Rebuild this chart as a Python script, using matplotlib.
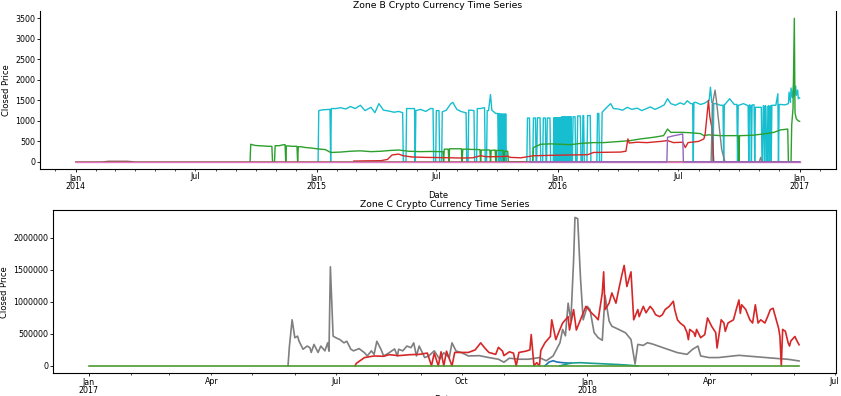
import pandas as pd
import matplotlib
matplotlib.use('Agg')
import matplotlib.pyplot as plt
import matplotlib.dates as mdates
from matplotlib.ticker import FuncFormatter

# ---------------- Zone B (top) ----------------
cyan_dates = ["2015-01-03", "2015-01-04", "2015-01-10", "2015-01-20", "2015-01-30", "2015-02-06",
              "2015-02-14", "2015-02-21", "2015-02-28", "2015-03-08", "2015-03-15", "2015-03-24",
              "2015-03-30", "2015-04-05", "2015-04-12", "2015-04-20", "2015-04-28", "2015-05-05",
              "2015-05-11", "2015-05-20", "2015-05-31", "2015-06-07", "2015-06-15", "2015-06-22",
              "2015-07-01", "2015-07-10", "2015-07-16", "2015-07-23", "2015-07-26", "2015-08-01",
              "2015-08-07", "2015-08-14", "2015-08-22", "2015-08-27", "2015-09-06", "2015-09-11",
              "2015-09-18", "2015-09-21", "2015-09-23", "2015-09-29", "2015-10-04", "2015-10-10",
              "2015-10-14", "2015-11-16", "2015-11-25", "2015-12-01", "2015-12-10", "2015-12-16",
              "2015-12-26", "2016-01-05", "2016-01-24", "2016-01-31", "2016-02-08", "2016-02-15",
              "2016-03-01", "2016-03-08", "2016-03-15", "2016-03-21", "2016-03-25", "2016-04-01",
              "2016-04-08", "2016-04-15", "2016-04-22", "2016-04-30", "2016-05-07", "2016-05-14",
              "2016-05-20", "2016-05-27", "2016-06-03", "2016-06-10", "2016-06-15", "2016-06-20",
              "2016-06-27", "2016-07-04", "2016-07-10", "2016-07-15", "2016-07-20", "2016-07-28",
              "2016-08-04", "2016-08-10", "2016-08-17", "2016-08-19", "2016-08-21", "2016-08-27",
              "2016-09-03", "2016-09-10", "2016-09-17", "2016-09-24", "2016-10-01", "2016-10-08",
              "2016-10-15", "2016-10-22", "2016-10-29", "2016-11-05", "2016-11-12", "2016-11-19",
              "2016-11-26", "2016-11-29", "2016-12-03", "2016-12-10", "2016-12-15", "2016-12-16",
              "2016-12-18", "2016-12-19", "2016-12-21", "2016-12-23", "2016-12-24", "2016-12-26",
              "2016-12-27", "2016-12-29", "2016-12-30", "2017-01-01"]
cyan_vals = [0, 1250, 1270, 1280, 1300, 1320,
             1290, 1350, 1300, 1380, 1250, 1330,
             1200, 1420, 1260, 1240, 1210, 1230,
             1200, 1300, 1250, 1280, 1230, 1300,
             1250, 1220, 1260, 1420, 1450, 1280,
             1230, 1200, 1260, 1250, 1300, 1320,
             1250, 1640, 1260, 1180, 1180, 1170,
             1170, 1070, 1070, 1075, 1070, 1070,
             1075, 1080, 1100, 1120, 1130, 1130,
             1180, 1210, 1330, 1420, 1300, 1290,
             1260, 1330, 1280, 1310, 1250, 1300,
             1340, 1280, 1330, 1390, 1540, 1420,
             1380, 1440, 1400, 1490, 1420, 1450,
             1400, 1430, 1500, 1820, 1450, 1420,
             1380, 1400, 1540, 1400, 1380, 1420,
             1370, 1390, 1330, 1350, 1370, 1350,
             1380, 1660, 1400, 1390, 1420, 1700,
             1450, 1800, 1560, 1880, 1600, 1850,
             1620, 1750, 1540, 1560]
cyan_gaps = [("2015-01-22", "2015-01-22"), ("2015-05-12", "2015-05-16"), ("2015-05-30", "2015-05-30"),
             ("2015-06-27", "2015-06-30"), ("2015-07-06", "2015-07-09"), ("2015-08-16", "2015-08-18"),
             ("2015-08-28", "2015-08-31"), ("2015-09-13", "2015-09-15"), ("2015-10-03", "2015-10-03"),
             ("2015-10-05", "2015-10-05"), ("2015-10-07", "2015-10-07"), ("2015-10-09", "2015-10-09"),
             ("2015-10-11", "2015-10-11"), ("2015-10-13", "2015-10-13"), ("2015-10-15", "2015-11-15"),
             ("2015-11-20", "2015-11-24"), ("2015-11-29", "2015-11-30"), ("2015-12-06", "2015-12-09"),
             ("2015-12-14", "2015-12-15"), ("2015-12-21", "2015-12-25"), ("2015-12-27", "2015-12-27"),
             ("2015-12-29", "2015-12-29"), ("2015-12-31", "2015-12-31"), ("2016-01-02", "2016-01-02"),
             ("2016-01-04", "2016-01-04"), ("2016-01-06", "2016-01-06"), ("2016-01-08", "2016-01-08"),
             ("2016-01-10", "2016-01-10"), ("2016-01-12", "2016-01-12"), ("2016-01-14", "2016-01-14"),
             ("2016-01-16", "2016-01-16"), ("2016-01-18", "2016-01-18"), ("2016-01-20", "2016-01-20"),
             ("2016-01-22", "2016-01-23"), ("2016-01-28", "2016-01-30"), ("2016-02-05", "2016-02-07"),
             ("2016-02-10", "2016-02-14"), ("2016-02-20", "2016-02-29"), ("2016-03-04", "2016-03-07"),
             ("2016-07-24", "2016-07-24"), ("2016-08-23", "2016-08-23"), ("2016-09-08", "2016-09-08"),
             ("2016-09-29", "2016-09-29"), ("2016-10-16", "2016-10-16"), ("2016-10-20", "2016-10-20"),
             ("2016-10-25", "2016-10-25"), ("2016-11-05", "2016-11-06"), ("2016-11-09", "2016-11-09"),
             ("2016-11-12", "2016-11-13"), ("2016-11-16", "2016-11-16"), ("2016-11-19", "2016-11-19"),
             ("2016-11-30", "2016-11-30")]

green_dates = ["2014-09-22", "2014-09-23", "2014-09-30", "2014-10-11", "2014-10-20", "2014-11-05",
               "2014-11-12", "2014-11-18", "2014-11-25", "2014-12-08", "2014-12-15", "2014-12-23",
               "2015-01-01", "2015-01-14", "2015-01-22", "2015-02-06", "2015-02-21", "2015-03-08",
               "2015-03-24", "2015-04-08", "2015-04-23", "2015-05-05", "2015-05-20", "2015-06-07",
               "2015-06-22", "2015-07-08", "2015-07-15", "2015-08-01", "2015-08-15", "2015-09-01",
               "2015-09-15", "2015-10-01", "2015-10-14", "2015-11-25", "2015-12-06", "2015-12-21",
               "2016-01-05", "2016-01-20", "2016-02-04", "2016-02-24", "2016-03-10", "2016-04-05",
               "2016-04-20", "2016-05-05", "2016-05-25", "2016-06-09", "2016-06-15", "2016-06-20",
               "2016-07-08", "2016-07-20", "2016-08-04", "2016-08-09", "2016-08-16", "2016-09-03",
               "2016-10-04", "2016-10-22", "2016-11-07", "2016-11-23", "2016-12-03", "2016-12-14",
               "2016-12-20", "2016-12-22", "2016-12-24", "2016-12-25", "2016-12-27", "2016-12-30",
               "2017-01-01"]
green_vals = [0, 430, 400, 390, 380, 395,
              420, 390, 380, 370, 350, 340,
              320, 300, 230, 240, 260, 270,
              250, 260, 280, 290, 260, 250,
              255, 250, 310, 320, 310, 300,
              290, 280, 260, 350, 430, 440,
              430, 420, 450, 470, 470, 500,
              520, 560, 600, 640, 800, 720,
              720, 710, 690, 640, 660, 640,
              640, 650, 680, 720, 780, 800,
              900, 1300, 3500, 1200, 1050, 1000,
              990]
green_gaps = [("2014-10-26", "2014-10-29"), ("2014-11-15", "2014-11-15"), ("2014-12-03", "2014-12-03"),
              ("2015-07-12", "2015-07-12"), ("2015-07-20", "2015-07-20"), ("2015-08-09", "2015-08-09"),
              ("2015-09-06", "2015-09-06"), ("2015-09-21", "2015-09-21"), ("2015-09-29", "2015-09-29"),
              ("2015-10-11", "2015-10-11"), ("2015-10-18", "2015-11-24"), ("2016-10-01", "2016-10-01"),
              ("2016-12-15", "2016-12-19")]

red_b_dates = ["2015-02-26", "2015-03-15", "2015-04-08", "2015-04-18", "2015-04-25", "2015-05-05",
               "2015-05-12", "2015-05-25", "2015-06-15", "2015-07-08", "2015-08-07", "2015-08-25",
               "2015-09-06", "2015-09-15", "2015-10-06", "2015-10-17", "2015-10-21", "2015-11-06",
               "2015-11-25", "2015-12-21", "2016-01-20", "2016-02-15", "2016-02-24", "2016-04-05",
               "2016-04-13", "2016-04-16", "2016-04-18", "2016-04-30", "2016-05-15", "2016-06-05",
               "2016-06-15", "2016-06-24", "2016-07-08", "2016-07-12", "2016-07-16", "2016-08-01",
               "2016-08-09", "2016-08-11", "2016-08-16", "2016-08-18", "2016-08-21", "2016-08-24",
               "2017-01-01"]
red_b_vals = [20, 25, 30, 60, 170, 190,
              150, 120, 110, 105, 95, 100,
              150, 125, 130, 140, 110, 100,
              150, 160, 170, 175, 230, 240,
              260, 560, 460, 480, 470, 500,
              520, 470, 480, 350, 470, 500,
              560, 680, 1500, 1100, 850, 0,
              0]

grey_b_dates = ["2016-08-20", "2016-08-22", "2016-08-26", "2016-08-28", "2016-09-01", "2016-09-05",
                "2016-09-10", "2016-11-01", "2016-11-03", "2016-11-05", "2017-01-01"]
grey_b_vals = [0, 1400, 1750, 1500, 900, 300,
               0, 0, 110, 0, 0]

purple_b_dates = ["2015-11-20", "2016-06-14", "2016-06-15", "2016-06-25", "2016-07-08", "2016-07-09",
                  "2017-01-01"]
purple_b_vals = [0, 0, 600, 640, 680, 0, 0]

brown_b_dates = ["2014-01-01", "2014-02-10", "2014-02-20", "2014-03-20", "2014-04-01", "2017-01-01"]
brown_b_vals = [0, 0, 15, 15, 0, 0]

pink_b_dates = ["2014-01-01", "2017-01-01"]
pink_b_vals = [0, 0]

# ---------------- Zone C (bottom) ----------------
grey_c_dates = ["2017-05-27", "2017-05-28", "2017-05-30", "2017-06-01", "2017-06-03", "2017-06-04",
                "2017-06-07", "2017-06-10", "2017-06-12", "2017-06-13", "2017-06-15", "2017-06-18",
                "2017-06-20", "2017-06-23", "2017-06-25", "2017-06-26", "2017-06-27", "2017-06-29",
                "2017-07-01", "2017-07-04", "2017-07-07", "2017-07-09", "2017-07-12", "2017-07-14",
                "2017-07-18", "2017-07-22", "2017-07-24", "2017-07-27", "2017-07-29", "2017-07-31",
                "2017-08-03", "2017-08-05", "2017-08-09", "2017-08-13", "2017-08-15", "2017-08-16",
                "2017-08-19", "2017-08-22", "2017-08-25", "2017-08-27", "2017-08-29", "2017-08-31",
                "2017-09-04", "2017-09-07", "2017-09-11", "2017-09-15", "2017-09-18", "2017-09-22",
                "2017-09-24", "2017-09-27", "2017-10-01", "2017-10-06", "2017-10-14", "2017-10-21",
                "2017-10-28", "2017-11-01", "2017-11-05", "2017-11-12", "2017-11-19", "2017-11-27",
                "2017-12-02", "2017-12-07", "2017-12-12", "2017-12-14", "2017-12-16", "2017-12-18",
                "2017-12-20", "2017-12-22", "2017-12-23", "2017-12-25", "2017-12-27", "2017-12-29",
                "2018-01-01", "2018-01-03", "2018-01-06", "2018-01-09", "2018-01-12", "2018-01-14",
                "2018-01-17", "2018-01-19", "2018-01-24", "2018-01-29", "2018-02-02", "2018-02-05",
                "2018-02-07", "2018-02-11", "2018-02-14", "2018-02-18", "2018-02-22", "2018-03-01",
                "2018-03-08", "2018-03-15", "2018-03-19", "2018-03-23", "2018-03-25", "2018-03-31",
                "2018-04-07", "2018-04-22", "2018-05-06", "2018-05-21", "2018-05-28", "2018-06-05"]
grey_c_vals = [0, 300000, 720000, 440000, 465000, 390000,
               260000, 310000, 285000, 210000, 335000, 210000,
               310000, 235000, 360000, 230000, 1548000, 465000,
               440000, 410000, 360000, 385000, 260000, 235000,
               270000, 205000, 155000, 235000, 180000, 385000,
               260000, 155000, 205000, 265000, 155000, 260000,
               235000, 310000, 285000, 360000, 155000, 310000,
               130000, 155000, 235000, 104000, 205000, 130000,
               360000, 232000, 207000, 155000, 160000, 130000,
               104000, 57000, 120000, 104000, 104000, 130000,
               80000, 155000, 360000, 570000, 470000, 980000,
               700000, 1650000, 2320000, 2300000, 1390000, 720000,
               930000, 880000, 520000, 440000, 400000, 1100000,
               700000, 620000, 570000, 517000, 413000, 30000,
               336000, 320000, 362000, 340000, 310000, 258000,
               207000, 180000, 258000, 310000, 155000, 130000,
               130000, 165000, 140000, 114000, 103000, 77000]

red_c_dates = ["2017-07-15", "2017-07-16", "2017-07-22", "2017-07-29", "2017-08-05", "2017-08-09",
               "2017-08-16", "2017-08-24", "2017-08-31", "2017-09-06", "2017-09-09", "2017-09-11",
               "2017-09-14", "2017-09-16", "2017-09-18", "2017-09-20", "2017-09-24", "2017-09-26",
               "2017-09-29", "2017-10-06", "2017-10-11", "2017-10-15", "2017-10-18", "2017-10-21",
               "2017-10-26", "2017-10-28", "2017-10-31", "2017-11-01", "2017-11-05", "2017-11-08",
               "2017-11-10", "2017-11-12", "2017-11-17", "2017-11-20", "2017-11-21", "2017-11-23",
               "2017-11-25", "2017-11-27", "2017-11-28", "2017-12-01", "2017-12-05", "2017-12-06",
               "2017-12-09", "2017-12-11", "2017-12-14", "2017-12-18", "2017-12-19", "2017-12-22",
               "2017-12-24", "2017-12-27", "2017-12-31", "2018-01-02", "2018-01-04", "2018-01-07",
               "2018-01-09", "2018-01-12", "2018-01-13", "2018-01-14", "2018-01-17", "2018-01-19",
               "2018-01-22", "2018-01-24", "2018-01-26", "2018-01-28", "2018-01-30", "2018-02-02",
               "2018-02-04", "2018-02-07", "2018-02-08", "2018-02-11", "2018-02-13", "2018-02-16",
               "2018-02-18", "2018-02-20", "2018-02-23", "2018-02-25", "2018-02-27", "2018-03-02",
               "2018-03-05", "2018-03-06", "2018-03-08", "2018-03-10", "2018-03-13", "2018-03-15",
               "2018-03-16", "2018-03-17", "2018-03-20", "2018-03-21", "2018-03-22", "2018-03-25",
               "2018-03-28", "2018-03-30", "2018-04-02", "2018-04-05", "2018-04-06", "2018-04-09",
               "2018-04-11", "2018-04-12", "2018-04-14", "2018-04-18", "2018-04-20", "2018-04-22",
               "2018-04-23", "2018-04-24", "2018-04-27", "2018-04-30", "2018-05-02", "2018-05-04",
               "2018-05-06", "2018-05-08", "2018-05-11", "2018-05-13", "2018-05-15", "2018-05-17",
               "2018-05-18", "2018-05-21", "2018-05-22", "2018-05-23", "2018-05-24", "2018-05-26",
               "2018-05-28", "2018-05-29", "2018-05-30", "2018-06-02", "2018-06-03", "2018-06-05"]
red_c_vals = [0, 40000, 130000, 155000, 150000, 175000,
              160000, 175000, 180000, 200000, 0, 200000,
              0, 220000, 0, 230000, 0, 210000,
              210000, 210000, 250000, 360000, 280000, 210000,
              180000, 290000, 230000, 160000, 220000, 200000,
              0, 210000, 230000, 250000, 490000, 0,
              50000, 0, 240000, 360000, 460000, 720000,
              410000, 520000, 670000, 770000, 560000, 880000,
              560000, 720000, 930000, 880000, 830000, 770000,
              720000, 1140000, 1470000, 880000, 980000, 1140000,
              980000, 1190000, 1390000, 1570000, 1240000, 1470000,
              720000, 880000, 770000, 930000, 830000, 930000,
              880000, 800000, 770000, 800000, 880000, 930000,
              1010000, 880000, 720000, 670000, 620000, 520000,
              410000, 570000, 520000, 460000, 570000, 440000,
              490000, 750000, 620000, 520000, 280000, 720000,
              670000, 540000, 670000, 720000, 880000, 1030000,
              820000, 955000, 880000, 720000, 670000, 955000,
              670000, 720000, 670000, 770000, 880000, 900000,
              820000, 590000, 460000, 0, 570000, 540000,
              360000, 310000, 390000, 460000, 410000, 330000]

blue_c_dates = ["2017-12-01", "2017-12-04", "2017-12-07", "2017-12-10", "2017-12-14", "2017-12-20"]
blue_c_vals = [0, 60000, 80000, 60000, 50000, 40000]

cyan_c_dates = ["2017-12-12", "2017-12-20", "2017-12-27", "2018-01-05", "2018-01-15", "2018-01-25",
                "2018-02-07"]
cyan_c_vals = [0, 45000, 50000, 40000, 30000, 20000, 0]

green_c_dates = ["2017-01-01", "2018-06-05"]
green_c_vals = [0, 0]


def series(dates, vals, gaps=()):
    # base points plus the days on which the price sat at zero
    s = pd.Series(vals, index=pd.to_datetime(dates))
    pts = dict(s.items())
    day = pd.Timedelta(days=1)
    for a, b in gaps:
        a, b = pd.Timestamp(a), pd.Timestamp(b)
        for d in list(pts):
            if a <= d <= b:
                del pts[d]
        before = s[s.index < a].iloc[-1]
        later = s[s.index > b]
        after = later.iloc[0] if len(later) else before
        pts.setdefault(a - day, before)
        pts[a] = 0
        pts[b] = 0
        pts.setdefault(b + day, after)
    out = pd.Series(pts).sort_index()
    return out.index, out.values


def date_axis(ax, label_months):
    ax.xaxis.set_major_locator(mdates.YearLocator())
    ax.xaxis.set_major_formatter(mdates.DateFormatter('%b\n%Y'))
    ax.xaxis.set_minor_locator(mdates.MonthLocator())

    def minor_fmt(x, pos):
        d = mdates.num2date(x)
        return d.strftime('%b') if d.month in label_months else ''
    ax.xaxis.set_minor_formatter(FuncFormatter(minor_fmt))
    ax.tick_params(axis='both', which='major', labelsize=5.7, length=2.5, width=0.6, pad=0.8)
    ax.tick_params(axis='x', which='minor', labelsize=5.7, length=1.5, width=0.5, pad=0.8)
    for t in ax.get_xticklabels():
        t.set_linespacing(0.85)


fig = plt.figure(figsize=(8.41, 3.96), dpi=100)
ax1 = fig.add_axes([0.0476, 0.573, 0.9464, 0.399])
ax2 = fig.add_axes([0.063, 0.0573, 0.931, 0.4124])

lw = 1.0
ax1.plot(*series(cyan_dates, cyan_vals, cyan_gaps), color='tab:cyan', lw=lw)
ax1.plot(*series(green_dates, green_vals, green_gaps), color='tab:green', lw=lw)
ax1.plot(*series(red_b_dates, red_b_vals), color='tab:red', lw=lw)
ax1.plot(*series(grey_b_dates, grey_b_vals), color='tab:gray', lw=lw)
ax1.plot(*series(brown_b_dates, brown_b_vals), color='tab:brown', lw=lw)
ax1.plot(*series(pink_b_dates, pink_b_vals), color='tab:pink', lw=lw)
ax1.plot(*series(purple_b_dates, purple_b_vals), color='tab:purple', lw=lw)

ax1.set_xlim(pd.Timestamp('2013-11-08'), pd.Timestamp('2017-02-25'))
date_axis(ax1, [7])
ax1.spines['top'].set_visible(False)
ax1.set_title('Zone B Crypto Currency Time Series', fontsize=6.7, pad=2)
ax1.set_xlabel('Date', fontsize=6, labelpad=0)
ax1.set_ylabel('Closed Price', fontsize=6, labelpad=3)

lw2 = 1.2
ax2.plot(*series(grey_c_dates, grey_c_vals), color='tab:gray', lw=lw2)
ax2.plot(*series(red_c_dates, red_c_vals), color='tab:red', lw=lw2)
ax2.plot(*series(blue_c_dates, blue_c_vals), color='tab:blue', lw=lw2)
ax2.plot(*series(cyan_c_dates, cyan_c_vals), color='#1a9e8f', lw=lw2)
ax2.plot(*series(green_c_dates, green_c_vals), color='#4f9a2f', lw=lw2)

ax2.set_xlim(pd.Timestamp('2016-12-06'), pd.Timestamp('2018-07-02'))
date_axis(ax2, [4, 7, 10])
ax2.ticklabel_format(axis='y', style='plain', useOffset=False)
ax2.set_title('Zone C Crypto Currency Time Series', fontsize=6.7, pad=2)
ax2.set_xlabel('Date', fontsize=6, labelpad=0)
ax2.set_ylabel('Closed Price', fontsize=6, labelpad=3)

for ax in (ax1, ax2):
    for sp in ax.spines.values():
        sp.set_linewidth(0.8)

fig.savefig('out.png', dpi=100)
